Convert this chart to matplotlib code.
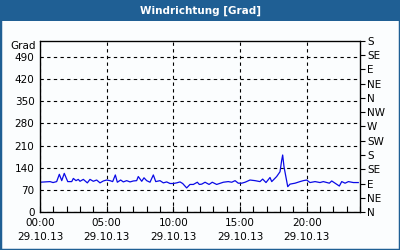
import matplotlib
matplotlib.use("Agg")
import matplotlib.pyplot as plt
from matplotlib.patches import Rectangle

# ---- data ----
hours = [0.0, 0.75, 0.98, 1.25, 1.45, 1.63, 1.82, 2.08, 2.38, 2.5, 2.7, 2.87, 3.0,
         3.25, 3.55, 3.75, 4.0, 4.25, 4.5, 4.75, 5.0, 5.25, 5.45, 5.65, 5.8, 6.05,
         6.25, 6.5, 6.75, 7.0, 7.25, 7.37, 7.63, 7.8, 8.0, 8.25, 8.5, 8.68, 9.0,
         9.25, 9.5, 9.75, 10.0, 10.25, 10.5, 10.7, 11.0, 11.25, 11.5, 11.8, 11.95,
         12.13, 12.38, 12.68, 12.92, 13.25, 13.75, 14.12, 14.38, 14.63, 14.87,
         15.13, 15.38, 15.75, 16.13, 16.5, 16.7, 16.95, 17.25, 17.38, 17.75, 18.0,
         18.13, 18.2, 18.3, 18.58, 18.75, 19.13, 19.5, 19.75, 20.0, 20.25, 20.63,
         21.0, 21.25, 21.7, 21.88, 22.13, 22.45, 22.63, 22.88, 23.13, 23.5, 23.87]
direction = [94, 96, 93, 96, 119, 99, 122, 96, 96, 106, 99, 103, 97,
             103, 92, 103, 97, 101, 92, 98, 101, 99, 96, 117, 94, 101,
             95, 99, 95, 98, 99, 112, 97, 108, 99, 94, 117, 96, 99,
             92, 95, 90, 90, 92, 95, 90, 76, 87, 87, 94, 87,
             88, 94, 87, 94, 87, 94, 96, 94, 99, 91,
             91, 94, 101, 99, 96, 104, 93, 109, 96, 112, 127,
             164, 180, 143, 80, 88, 91, 96, 99, 101, 93, 96,
             93, 96, 91, 98, 91, 82, 96, 91, 96, 93, 93]

left_ticks = [0, 70, 140, 210, 280, 350, 420, 490]
right_ticks = [0, 45, 90, 135, 180, 225, 270, 315, 360, 405, 450, 495, 540]
right_labels = ["N", "NE", "E", "SE", "S", "SW", "W", "NW", "N", "NE", "E", "SE", "S"]
x_ticks = [0, 5, 10, 15, 20]
x_labels = ["00:00\n29.10.13", "05:00\n29.10.13", "10:00\n29.10.13",
            "15:00\n29.10.13", "20:00\n29.10.13"]
title = "Windrichtung [Grad]"
unit = "Grad"

# ---- styling ----
BLUE = "#1f5f94"
BG = "#fbfdfe"
FS = 7.5

fig = plt.figure(figsize=(4, 2.5), dpi=100, facecolor=BG)
# border and title bar
fig.patches.append(Rectangle((0, 0), 1, 1, transform=fig.transFigure,
                             fill=False, edgecolor=BLUE, linewidth=2.5, zorder=0))
fig.patches.append(Rectangle((0, 1 - 21 / 250), 1, 21 / 250, transform=fig.transFigure,
                             facecolor=BLUE, edgecolor="none", zorder=1))
fig.text(0.5, 1 - 10.5 / 250, title, color="white", fontsize=FS, fontweight="bold",
         ha="center", va="center", family="DejaVu Sans")

ax = fig.add_axes([0.1, 0.152, 0.8, 0.684])
ax.set_facecolor(BG)
ax.plot(hours, direction, color="#0a0ae6", linewidth=0.9)
ax.set_xlim(0, 24)
ax.set_ylim(0, 540)

ax.set_yticks(left_ticks)
ax.set_yticklabels([str(v) for v in left_ticks], fontsize=FS)
ax.tick_params(axis="y", length=0, pad=4)
ax.set_xticks(x_ticks)
ax.set_xticklabels(x_labels, fontsize=FS, linespacing=1.55)
ax.set_xticks(range(0, 25), minor=True)
ax.tick_params(axis="x", which="both", direction="in", length=4, width=0.8, pad=4)

ax.grid(True, which="major", color="black", linestyle=(0, (3, 3)), linewidth=0.8)
for s in ax.spines.values():
    s.set_linewidth(0.9)
    s.set_color("black")
ax.text(-0.012, 1.0, unit, transform=ax.transAxes, ha="right", va="top", fontsize=FS)

ax2 = ax.twinx()
ax2.set_ylim(0, 540)
ax2.set_yticks(right_ticks)
ax2.set_yticklabels(right_labels, fontsize=FS)
ax2.tick_params(axis="y", direction="out", length=3.5, width=0.8, pad=1.5)

fig.savefig("out.png", dpi=100, facecolor=BG)
